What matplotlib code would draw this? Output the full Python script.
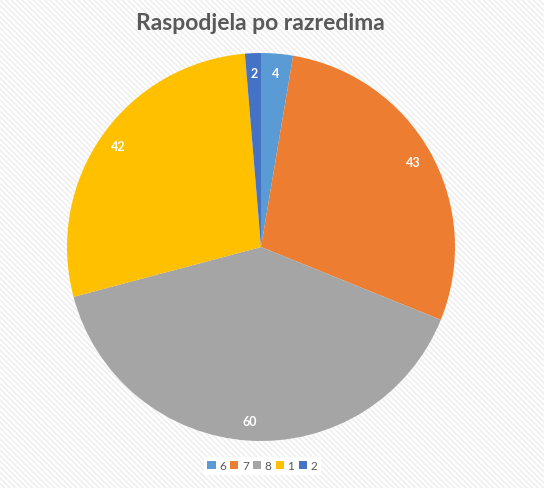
import numpy as np
import matplotlib.pyplot as plt
from matplotlib.patches import Rectangle, Patch

# podaci
categories = ["6", "7", "8", "1", "2"]
values = [4, 43, 60, 42, 2]
colors = ["#5B9BD5", "#ED7D31", "#A5A5A5", "#FFC000", "#4472C4"]

plt.rcParams['font.family'] = ['Lato', 'DejaVu Sans']
plt.rcParams['hatch.linewidth'] = 1.2

fig = plt.figure(figsize=(5.44, 4.89), dpi=100)
fig.patch.set_facecolor("white")

# prugasta pozadina
bg = Rectangle((0, 0), 1, 1, transform=fig.transFigure, facecolor="white",
               edgecolor="#efefef", hatch="\\" * 6, linewidth=0, zorder=-10)
fig.patches.append(bg)

ax = fig.add_axes([0.1232, 0.0961, 0.7132, 0.7935])
wedges, _ = ax.pie(values, colors=colors, startangle=90, counterclock=False,
                   radius=1, wedgeprops=dict(linewidth=0))
ax.set_xlim(-1, 1)
ax.set_ylim(-1, 1)
ax.set_aspect("equal")
ax.axis("off")

for w, v in zip(wedges, values):
    ang = np.deg2rad((w.theta1 + w.theta2) / 2)
    r = 0.9
    ax.text(r * np.cos(ang), r * np.sin(ang), str(v), color="white",
            fontsize=9, fontweight="bold", ha="center", va="center")

fig.text(0.479, 0.951, "Raspodjela po razredima", ha="center", va="center",
         fontsize=16.5, fontweight="bold", color="#595959")

handles = [Patch(facecolor=c, edgecolor="none") for c in colors]
leg = fig.legend(handles, categories, loc="center", bbox_to_anchor=(0.482, 0.045),
                 ncol=5, frameon=True, fontsize=8.5, handlelength=0.7,
                 handleheight=0.7, handletextpad=0.3, columnspacing=0.35,
                 borderpad=0.3)
leg.get_frame().set_facecolor("white")
leg.get_frame().set_edgecolor("none")
leg.get_frame().set_alpha(1)
leg.get_frame().set_boxstyle("square", pad=0)
for t in leg.get_texts():
    t.set_color("#595959")

plt.savefig("out.png", dpi=100)
